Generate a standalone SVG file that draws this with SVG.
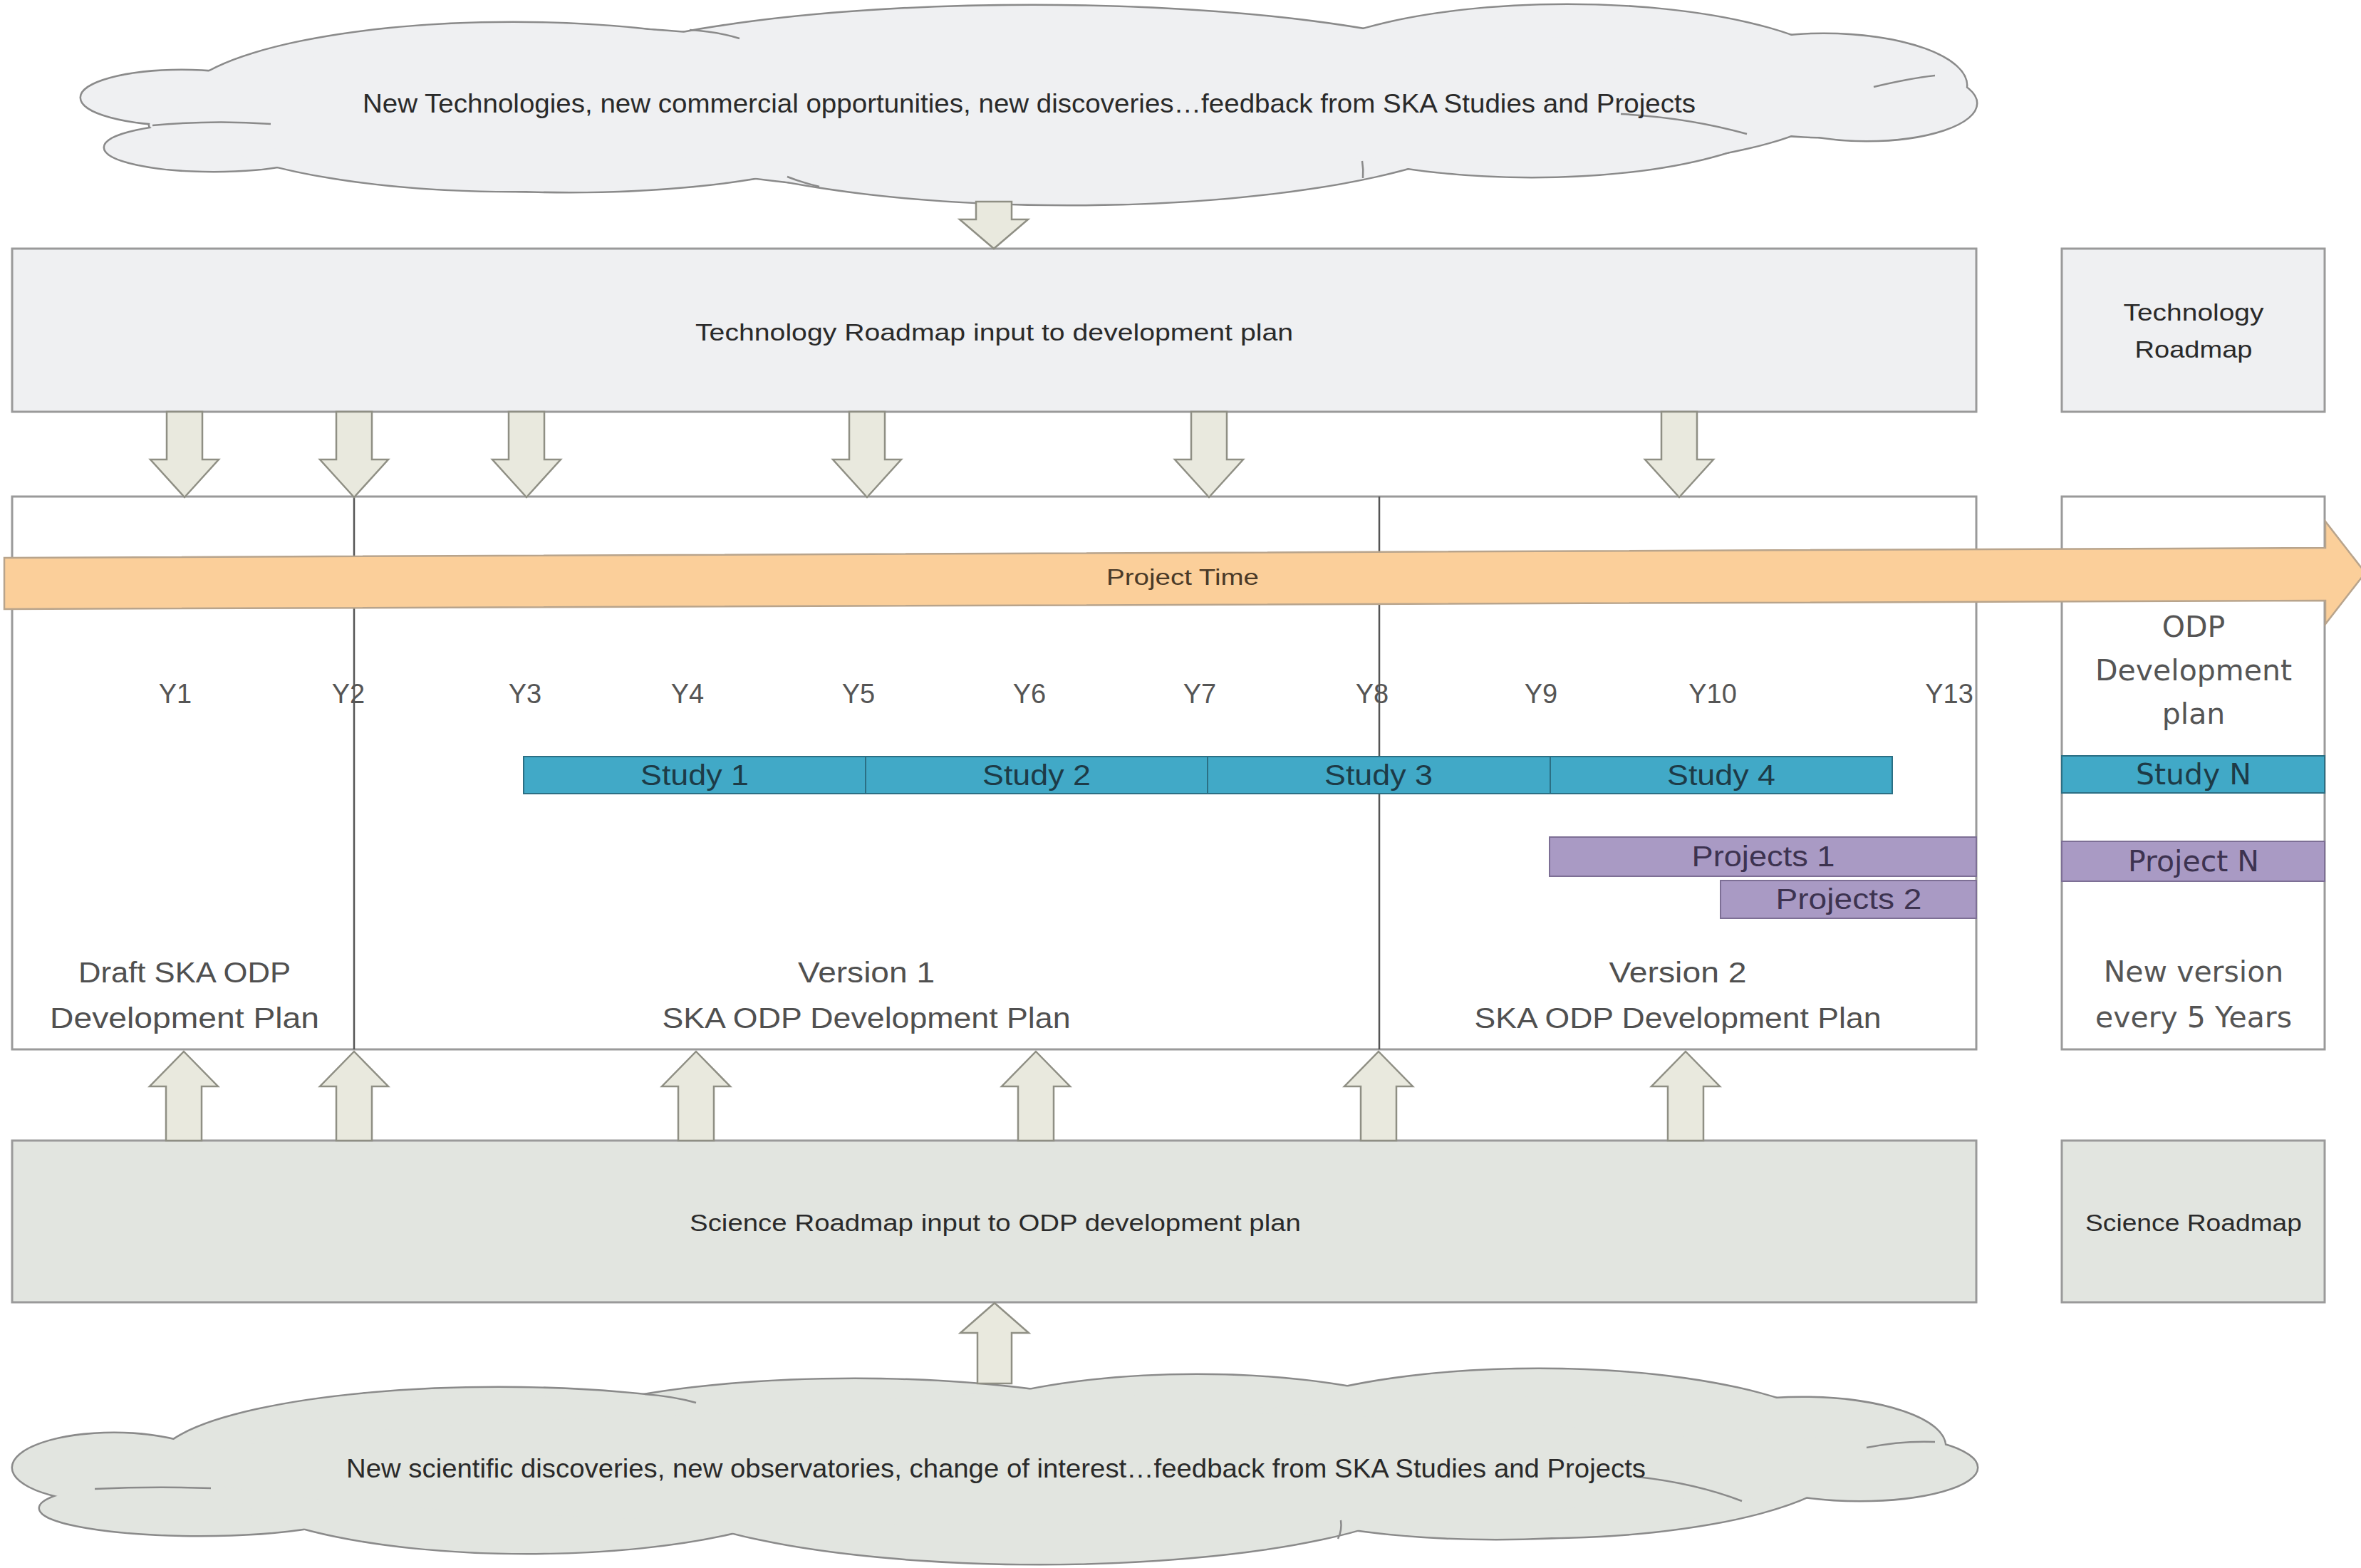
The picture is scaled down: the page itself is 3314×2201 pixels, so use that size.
<svg xmlns="http://www.w3.org/2000/svg" xmlns:xlink="http://www.w3.org/1999/xlink" width="3314" height="2201" viewBox="0 0 3314 2201">
<style>
.box{stroke:#9a9a9a;stroke-width:3}
.tech{fill:#eff0f2}
.sci{fill:#e2e5e0}
.white{fill:#ffffff}
.cond{font-family:"Liberation Sans",Arial,sans-serif;fill:#2a2a2a}
.lbl{font-family:"Liberation Sans",Arial,sans-serif;fill:#505050;font-size:40px;text-anchor:middle}
.yr{font-family:"Liberation Sans",Arial,sans-serif;fill:#555555;font-size:38px;text-anchor:middle}
.rc{font-family:"DejaVu Sans",Verdana,sans-serif;fill:#555555;font-size:41px;text-anchor:middle}
.study{fill:#41a9c7;stroke:#2b6f84;stroke-width:2}
.proj{fill:#a99ac4;stroke:#7d6f95;stroke-width:2}
.stx{font-family:"Liberation Sans",Arial,sans-serif;fill:#1d3b47;font-size:40px;text-anchor:middle}
.ptx{font-family:"Liberation Sans",Arial,sans-serif;fill:#3d3350;font-size:40px;text-anchor:middle}
.arr{fill:#e9e9de;stroke:#8f8f84;stroke-width:2.5}
.cl-out{stroke:#8a8a8a;stroke-width:5}
.crease{fill:none;stroke:#8a8a8a;stroke-width:2.5}
.div{stroke:#555555;stroke-width:2.5}
</style>
<defs>
<g id="cloudTop">
<ellipse cx="255" cy="137" rx="141" ry="38"/>
<ellipse cx="300" cy="207" rx="153" ry="33"/>
<ellipse cx="300" cy="175" rx="90" ry="20"/>
<ellipse cx="720" cy="150" rx="470" ry="118"/>
<ellipse cx="1450" cy="140" rx="700" ry="132"/>
<ellipse cx="2200" cy="120" rx="400" ry="113"/>
<ellipse cx="2560" cy="120" rx="200" ry="72"/>
<ellipse cx="2620" cy="145" rx="154" ry="52"/>
<ellipse cx="2150" cy="150" rx="360" ry="98"/>
<ellipse cx="1500" cy="151" rx="610" ry="136"/>
<ellipse cx="800" cy="154" rx="470" ry="115"/>
<ellipse cx="1450" cy="150" rx="1100" ry="80"/>
</g>
<g id="cloudBot">
<ellipse cx="160" cy="2060" rx="142" ry="48"/>
<ellipse cx="280" cy="2117" rx="224" ry="38"/>
<ellipse cx="700" cy="2054" rx="480" ry="106"/>
<ellipse cx="1200" cy="2040" rx="480" ry="104"/>
<ellipse cx="1680" cy="2040" rx="400" ry="110"/>
<ellipse cx="2160" cy="2040" rx="440" ry="118"/>
<ellipse cx="2530" cy="2030" rx="200" ry="68"/>
<ellipse cx="2610" cy="2060" rx="165" ry="46"/>
<ellipse cx="2100" cy="2060" rx="400" ry="100"/>
<ellipse cx="1460" cy="2075" rx="560" ry="120"/>
<ellipse cx="740" cy="2070" rx="430" ry="110"/>
<ellipse cx="1400" cy="2060" rx="1150" ry="80"/>
</g>
<path id="downArrow" d="M-25,0 L25,0 L25,67 L48,67 L0,120 L-48,67 L-25,67 Z"/>
<path id="upArrow" d="M0,0 L48,49 L25,49 L25,125 L-25,125 L-25,49 L-48,49 Z"/>
</defs>

<g id="cloud-technology">
<use xlink:href="#cloudTop" href="#cloudTop" class="cl-out" fill="#eff0f2"/>
<use xlink:href="#cloudTop" href="#cloudTop" fill="#eff0f2" stroke="none"/>
<path class="crease" d="M214,176 Q300,168 380,174"/>
<path class="crease" d="M968,42 Q1005,44 1038,54"/>
<path class="crease" d="M2275,160 Q2370,165 2452,188"/>
<path class="crease" d="M2630,122 Q2680,110 2716,106"/>
<path class="crease" d="M1912,226 Q1914,238 1913,250"/>
<path class="crease" d="M1105,248 Q1125,256 1150,262"/>
<text class="cond" x="509" y="158" font-size="36" textLength="1871" lengthAdjust="spacingAndGlyphs">New Technologies, new commercial opportunities, new discoveries…feedback from SKA Studies and Projects</text>
</g>

<g id="cloud-science">
<use xlink:href="#cloudBot" href="#cloudBot" class="cl-out" fill="#e2e5e0"/>
<use xlink:href="#cloudBot" href="#cloudBot" fill="#e2e5e0" stroke="none"/>
<path class="crease" d="M133,2090 Q215,2086 296,2089"/>
<path class="crease" d="M905,1957 Q945,1960 977,1969"/>
<path class="crease" d="M2620,2032 Q2670,2022 2716,2024"/>
<path class="crease" d="M2298,2073 Q2380,2082 2445,2107"/>
<path class="crease" d="M1882,2134 Q1884,2148 1878,2160"/>
<text class="cond" x="486" y="2074" font-size="36" textLength="1824" lengthAdjust="spacingAndGlyphs">New scientific discoveries, new observatories, change of interest…feedback from SKA Studies and Projects</text>
</g>

<g id="technology-input">
<rect class="box tech" x="17" y="349" width="2757" height="229"/>
<text class="cond" x="976" y="478" font-size="34" textLength="839" lengthAdjust="spacingAndGlyphs">Technology Roadmap input to development plan</text>
</g>

<g id="technology-roadmap">
<rect class="box tech" x="2894" y="349" width="369" height="229"/>
<text class="cond" x="3079" y="450" font-size="34" text-anchor="middle" textLength="197" lengthAdjust="spacingAndGlyphs">Technology</text>
<text class="cond" x="3079" y="502" font-size="34" text-anchor="middle" textLength="165" lengthAdjust="spacingAndGlyphs">Roadmap</text>
</g>

<g id="development-plan">
<rect class="box white" x="17" y="697" width="2757" height="776"/>
<line class="div" x1="497" y1="697" x2="497" y2="1473"/>
<line class="div" x1="1936" y1="697" x2="1936" y2="1473"/>
</g>

<g id="odp-column">
<rect class="box white" x="2894" y="697" width="369" height="776"/>
</g>

<g id="project-time">
<polygon points="6,783 3264,769 3264,732 3320,804 3264,876 3264,843 6,855" fill="#fbcf9a" stroke="#b8a48c" stroke-width="2.5"/>
<text class="cond" x="1553" y="821" font-size="31" fill="#4a3a28" style="fill:#4a3a28" textLength="214" lengthAdjust="spacingAndGlyphs">Project Time</text>
</g>

<g id="years">
<text class="yr" x="246" y="987">Y1</text>
<text class="yr" x="489" y="987">Y2</text>
<text class="yr" x="737" y="987">Y3</text>
<text class="yr" x="965" y="987">Y4</text>
<text class="yr" x="1205" y="987">Y5</text>
<text class="yr" x="1445" y="987">Y6</text>
<text class="yr" x="1684" y="987">Y7</text>
<text class="yr" x="1926" y="987">Y8</text>
<text class="yr" x="2163" y="987">Y9</text>
<text class="yr" x="2404" y="987">Y10</text>
<text class="yr" x="2736" y="987">Y13</text>
</g>

<g id="study-1">
<rect class="study" x="735" y="1062" width="480" height="52"/>
<text class="stx" x="975" y="1102" textLength="152" lengthAdjust="spacingAndGlyphs">Study 1</text>
</g>
<g id="study-2">
<rect class="study" x="1215" y="1062" width="480" height="52"/>
<text class="stx" x="1455" y="1102" textLength="152" lengthAdjust="spacingAndGlyphs">Study 2</text>
</g>
<g id="study-3">
<rect class="study" x="1695" y="1062" width="481" height="52"/>
<text class="stx" x="1935" y="1102" textLength="152" lengthAdjust="spacingAndGlyphs">Study 3</text>
</g>
<g id="study-4">
<rect class="study" x="2176" y="1062" width="480" height="52"/>
<text class="stx" x="2416" y="1102" textLength="152" lengthAdjust="spacingAndGlyphs">Study 4</text>
</g>

<g id="projects-1">
<rect class="proj" x="2175" y="1175" width="599" height="55"/>
<text class="ptx" x="2475" y="1216" textLength="201" lengthAdjust="spacingAndGlyphs">Projects 1</text>
</g>
<g id="projects-2">
<rect class="proj" x="2415" y="1236" width="359" height="53"/>
<text class="ptx" x="2595" y="1276" textLength="205" lengthAdjust="spacingAndGlyphs">Projects 2</text>
</g>

<g id="plan-labels">
<text class="lbl" x="259" y="1379" textLength="298" lengthAdjust="spacingAndGlyphs">Draft SKA ODP</text>
<text class="lbl" x="259" y="1443" textLength="378" lengthAdjust="spacingAndGlyphs">Development Plan</text>
<text class="lbl" x="1216" y="1379" textLength="192" lengthAdjust="spacingAndGlyphs">Version 1</text>
<text class="lbl" x="1216" y="1443" textLength="573" lengthAdjust="spacingAndGlyphs">SKA ODP Development Plan</text>
<text class="lbl" x="2355" y="1379" textLength="193" lengthAdjust="spacingAndGlyphs">Version 2</text>
<text class="lbl" x="2355" y="1443" textLength="571" lengthAdjust="spacingAndGlyphs">SKA ODP Development Plan</text>
</g>

<g id="odp-column-content">
<text class="rc" x="3079" y="894">ODP</text>
<text class="rc" x="3079" y="955">Development</text>
<text class="rc" x="3079" y="1016">plan</text>
<rect class="study" x="2894" y="1061" width="369" height="52"/>
<text class="rc" x="3079" y="1101" style="fill:#1d3b47">Study N</text>
<rect class="proj" x="2894" y="1181" width="369" height="56"/>
<text class="rc" x="3079" y="1223" style="fill:#3d3350">Project N</text>
<text class="rc" x="3079" y="1378">New version</text>
<text class="rc" x="3079" y="1442">every 5 Years</text>
</g>

<g id="science-input">
<rect class="box sci" x="17" y="1601" width="2757" height="227"/>
<text class="cond" x="968" y="1728" font-size="34" textLength="858" lengthAdjust="spacingAndGlyphs">Science Roadmap input to ODP development plan</text>
</g>

<g id="science-roadmap">
<rect class="box sci" x="2894" y="1601" width="369" height="227"/>
<text class="cond" x="3079" y="1728" font-size="34" text-anchor="middle" textLength="304" lengthAdjust="spacingAndGlyphs">Science Roadmap</text>
</g>

<g id="connectors">
<path class="arr" d="M1370,283 L1420,283 L1420,308 L1443,308 L1395,349 L1347,308 L1370,308 Z"/>
<use class="arr" xlink:href="#downArrow" href="#downArrow" transform="translate(259,578)"/>
<use class="arr" xlink:href="#downArrow" href="#downArrow" transform="translate(497,578)"/>
<use class="arr" xlink:href="#downArrow" href="#downArrow" transform="translate(739,578)"/>
<use class="arr" xlink:href="#downArrow" href="#downArrow" transform="translate(1217,578)"/>
<use class="arr" xlink:href="#downArrow" href="#downArrow" transform="translate(1697,578)"/>
<use class="arr" xlink:href="#downArrow" href="#downArrow" transform="translate(2357,578)"/>
<use class="arr" xlink:href="#upArrow" href="#upArrow" transform="translate(258,1476)"/>
<use class="arr" xlink:href="#upArrow" href="#upArrow" transform="translate(497,1476)"/>
<use class="arr" xlink:href="#upArrow" href="#upArrow" transform="translate(977,1476)"/>
<use class="arr" xlink:href="#upArrow" href="#upArrow" transform="translate(1454,1476)"/>
<use class="arr" xlink:href="#upArrow" href="#upArrow" transform="translate(1935,1476)"/>
<use class="arr" xlink:href="#upArrow" href="#upArrow" transform="translate(2366,1476)"/>
<path class="arr" d="M1396,1829 L1444,1871 L1420,1871 L1420,1942 L1372,1942 L1372,1871 L1348,1871 Z"/>
</g>
</svg>
